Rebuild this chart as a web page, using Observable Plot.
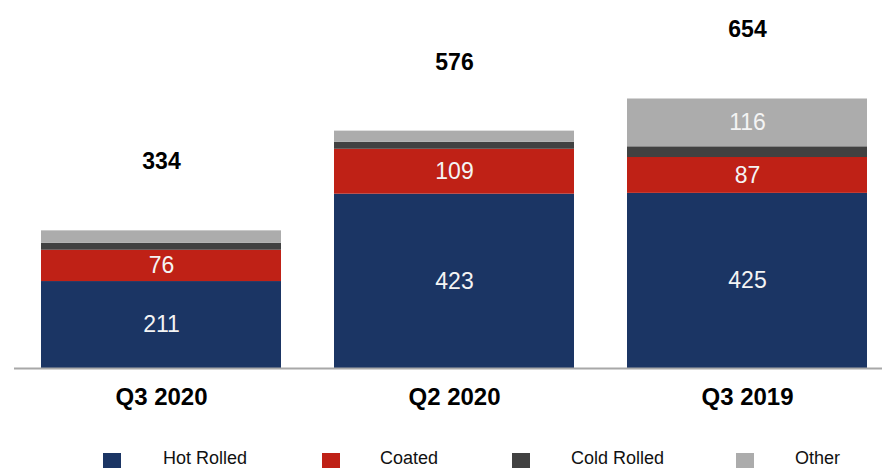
<!DOCTYPE html>
<html>
<head>
<meta charset="utf-8">
<script src="https://cdn.jsdelivr.net/npm/d3@7"></script>
<script src="https://cdn.jsdelivr.net/npm/@observablehq/plot@0.6"></script>
<style>
  html, body { margin: 0; padding: 0; background: #fff; width: 882px; height: 468px; overflow: hidden; }
  #chart { position: relative; width: 882px; height: 468px; font-family: "Liberation Sans", Arial, sans-serif; }
  .legend { position: absolute; left: 0; top: 445px; width: 882px; height: 23px; }
  .sw { position: absolute; top: 8px; width: 18px; height: 15px; }
  .lt { position: absolute; top: 4px; font-size: 18px; color: #111; line-height: 19px; }
</style>
</head>
<body>
<div id="chart"></div>
<script>
const quarters = ["Q3 2020", "Q2 2020", "Q3 2019"];
const seriesNames = ["Hot Rolled", "Coated", "Cold Rolled", "Other"];
const hotRolled = [211, 423, 425];
const coated = [76, 109, 87];
const coldRolled = [17, 17, 26];
const other = [30, 27, 116];
const totals = [334, 576, 654];
const colors = ["#1b3564", "#bf2116", "#414141", "#acacac"];

const seriesValues = [hotRolled, coated, coldRolled, other];
const rows = [];
quarters.forEach((q, i) => {
  seriesNames.forEach((s, j) => rows.push({quarter: q, series: s, value: seriesValues[j][i]}));
});
const totalRows = quarters.map((q, i) => ({quarter: q, total: totals[i]}));

const font = "Liberation Sans, Arial, sans-serif";
const plot = Plot.plot({
  width: 882,
  height: 445,
  marginLeft: 40,
  marginRight: 13,
  marginTop: 0,
  marginBottom: 77,
  style: {fontFamily: font, background: "#fff"},
  x: {domain: quarters, paddingInner: 0.18, paddingOuter: 0, label: null},
  y: {domain: [0, 893], axis: null},
  color: {domain: seriesNames, range: colors},
  marks: [
    Plot.barY(rows, {x: "quarter", y: "value", fill: "series", order: seriesNames}),
    Plot.text(rows, Plot.stackY({
      x: "quarter", y: "value", z: "series", order: seriesNames,
      text: d => d.value >= 50 ? String(d.value) : "",
      fill: "#f4f4f4", fontSize: 23
    })),
    Plot.text(totalRows, {x: "quarter", y: "total", text: d => String(d.total), dy: -69, fontSize: 23, fontWeight: "bold", fill: "#000"}),
    Plot.ruleY([0], {stroke: "#a8a8a8", strokeWidth: 2, insetLeft: -26, insetRight: -13}),
    Plot.axisX({tickSize: 0, tickPadding: 19, fontSize: 24, fontWeight: "bold", fill: "#000", label: null})
  ]
});
const chart = document.getElementById("chart");
chart.appendChild(plot);

const legend = document.createElement("div");
legend.className = "legend";
const swX = [103, 322, 512, 736];
const txX = [163, 380, 571, 795];
seriesNames.forEach((s, i) => {
  const sw = document.createElement("div");
  sw.className = "sw";
  sw.style.left = swX[i] + "px";
  sw.style.background = colors[i];
  legend.appendChild(sw);
  const t = document.createElement("div");
  t.className = "lt";
  t.style.left = txX[i] + "px";
  t.textContent = s;
  legend.appendChild(t);
});
chart.appendChild(legend);
</script>
</body>
</html>
